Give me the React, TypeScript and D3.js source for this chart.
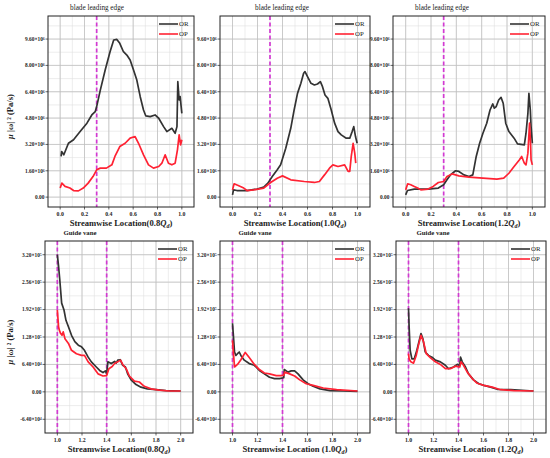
import * as d3 from "d3";
import React from "react";

// streamwise position along the blade (top row) and the guide vane (bottom row)
const blade08OR: [number, number][] = [
  [0.008, 2.47], [0.012, 2.77], [0.03, 2.57], [0.068, 3.27], [0.11, 3.48], [0.164, 3.98],
  [0.22, 4.49], [0.26, 4.99], [0.288, 5.19], [0.3, 5.5], [0.33, 6.5], [0.37, 7.72],
  [0.41, 8.83], [0.44, 9.54], [0.466, 9.58], [0.49, 9.34], [0.52, 8.83], [0.548, 8.63],
  [0.575, 8.33], [0.603, 7.72], [0.63, 7.11], [0.658, 6.1], [0.685, 5.29], [0.704, 4.93],
  [0.74, 4.89], [0.78, 4.99], [0.81, 4.79], [0.85, 4.28], [0.877, 3.98], [0.918, 4.18],
  [0.945, 3.88], [0.96, 4.28], [0.967, 7.01], [0.978, 5.9], [0.986, 6.1], [1.0, 5.09],
];
const blade08OP: [number, number][] = [
  [0.0, 0.55], [0.014, 0.85], [0.04, 0.65], [0.08, 0.55], [0.11, 0.4], [0.15, 0.38],
  [0.19, 0.55], [0.23, 0.85], [0.27, 1.25], [0.3, 1.66], [0.33, 1.76], [0.38, 1.76],
  [0.425, 1.96], [0.45, 2.47], [0.49, 3.07], [0.534, 3.27], [0.575, 3.58], [0.616, 3.68],
  [0.644, 3.27], [0.685, 2.57], [0.726, 1.96], [0.767, 1.76], [0.81, 1.86], [0.836, 2.06],
  [0.863, 2.57], [0.89, 2.06], [0.918, 1.96], [0.945, 2.06], [0.964, 2.87], [0.978, 3.78],
  [0.99, 3.17], [1.0, 3.48],
];
const blade10OR: [number, number][] = [
  [0, 0.14], [0.008, 0.44], [0.035, 0.4], [0.116, 0.4], [0.197, 0.49], [0.25, 0.61],
  [0.283, 0.85], [0.318, 1.25], [0.358, 1.66], [0.385, 1.96], [0.426, 2.97], [0.466, 4.18],
  [0.493, 5.29], [0.52, 6.3], [0.547, 6.91], [0.569, 7.52], [0.58, 7.62], [0.6, 7.32],
  [0.628, 6.91], [0.655, 6.81], [0.68, 6.87], [0.703, 7.01], [0.72, 6.71], [0.74, 6.2],
  [0.763, 6.0], [0.79, 5.29], [0.817, 4.49], [0.844, 3.98], [0.87, 3.78], [0.91, 3.58],
  [0.938, 3.58], [0.957, 3.98], [0.97, 4.28], [0.984, 3.68], [0.997, 3.27],
];
const blade10OP: [number, number][] = [
  [0, 0.44], [0.013, 0.81], [0.05, 0.69], [0.09, 0.55], [0.116, 0.4], [0.17, 0.44],
  [0.25, 0.55], [0.305, 0.89], [0.358, 1.15], [0.4, 1.29], [0.466, 1.05], [0.574, 0.95],
  [0.655, 0.89], [0.695, 0.95], [0.736, 1.35], [0.776, 1.76], [0.803, 1.96], [0.844, 1.86],
  [0.897, 1.96], [0.925, 1.56], [0.938, 1.56], [0.95, 2.47], [0.965, 3.27], [0.978, 2.67],
  [0.986, 2.06],
];
const blade12OR: [number, number][] = [
  [0, 0.14], [0.014, 0.4], [0.068, 0.49], [0.177, 0.49], [0.258, 0.55], [0.3, 0.75],
  [0.326, 1.05], [0.353, 1.35], [0.394, 1.6], [0.42, 1.56], [0.46, 1.35], [0.5, 1.25],
  [0.53, 1.35], [0.557, 2.47], [0.584, 3.27], [0.61, 3.88], [0.64, 4.49], [0.666, 5.29],
  [0.688, 5.66], [0.7, 5.4], [0.715, 5.5], [0.734, 5.9], [0.753, 6.06], [0.77, 5.7],
  [0.79, 4.49], [0.815, 3.98], [0.856, 3.58], [0.883, 3.23], [0.937, 3.17], [0.95, 3.88],
  [0.965, 5.09], [0.973, 6.3], [0.984, 5.29], [0.99, 4.28], [1.0, 3.27],
];
const blade12OP: [number, number][] = [
  [0, 0.44], [0.016, 0.81], [0.04, 0.75], [0.068, 0.65], [0.095, 0.55], [0.12, 0.44],
  [0.177, 0.49], [0.217, 0.65], [0.258, 0.89], [0.3, 0.95], [0.326, 1.25], [0.367, 1.41],
  [0.42, 1.29], [0.5, 1.21], [0.61, 1.15], [0.72, 1.09], [0.774, 1.15], [0.815, 1.45],
  [0.856, 1.86], [0.897, 2.26], [0.916, 2.47], [0.937, 2.06], [0.95, 1.96], [0.965, 2.67],
  [0.978, 4.49], [0.986, 3.27], [0.99, 2.26], [1.0, 1.96],
];
const vane08OR: [number, number][] = [
  [1.0, 3.2], [1.01, 2.93], [1.02, 2.61], [1.035, 2.07], [1.054, 1.91], [1.07, 1.67],
  [1.09, 1.52], [1.115, 1.32], [1.142, 1.17], [1.17, 1.09], [1.196, 1.05], [1.22, 0.97],
  [1.25, 0.81], [1.276, 0.7], [1.316, 0.58], [1.343, 0.5], [1.37, 0.45], [1.39, 0.49],
  [1.4, 0.42], [1.41, 0.7], [1.437, 0.66], [1.464, 0.71], [1.477, 0.67], [1.49, 0.74],
  [1.51, 0.75], [1.53, 0.62], [1.552, 0.58], [1.57, 0.42], [1.598, 0.28], [1.638, 0.17],
  [1.678, 0.11], [1.73, 0.07], [1.8, 0.05], [1.88, 0.03], [2.0, 0.02],
];
const vane08OP: [number, number][] = [
  [1.0, 1.91], [1.01, 1.52], [1.016, 1.44], [1.027, 1.36], [1.038, 1.32], [1.048, 1.4],
  [1.062, 1.24], [1.09, 1.13], [1.115, 0.97], [1.155, 0.89], [1.196, 0.85], [1.22, 0.85],
  [1.25, 0.7], [1.29, 0.58], [1.33, 0.42], [1.37, 0.37], [1.4, 0.38], [1.418, 0.54],
  [1.445, 0.59], [1.464, 0.66], [1.49, 0.7], [1.512, 0.74], [1.53, 0.64], [1.558, 0.54],
  [1.584, 0.37], [1.625, 0.25], [1.665, 0.23], [1.705, 0.13], [1.76, 0.07], [1.826, 0.04],
  [1.906, 0.02], [2.0, 0.02],
];
const vane10OR: [number, number][] = [
  [1.0, 1.6], [1.008, 1.28], [1.016, 0.93], [1.027, 0.85], [1.04, 0.89], [1.054, 0.93],
  [1.067, 0.85], [1.094, 0.74], [1.134, 0.66], [1.175, 0.62], [1.215, 0.5], [1.255, 0.42],
  [1.296, 0.34], [1.336, 0.31], [1.376, 0.31], [1.41, 0.33], [1.414, 0.52], [1.444, 0.46],
  [1.47, 0.49], [1.497, 0.49], [1.524, 0.42], [1.565, 0.28], [1.605, 0.19], [1.645, 0.13],
  [1.7, 0.07], [1.78, 0.03], [1.887, 0.02], [2.0, 0.01],
];
const vane10OP: [number, number][] = [
  [1.0, 1.2], [1.008, 0.89], [1.016, 0.58], [1.04, 0.64], [1.067, 0.75], [1.102, 0.92],
  [1.134, 0.8], [1.175, 0.64], [1.215, 0.52], [1.255, 0.44], [1.296, 0.42], [1.35, 0.38],
  [1.39, 0.38], [1.41, 0.39], [1.417, 0.46], [1.457, 0.42], [1.497, 0.37], [1.538, 0.28],
  [1.59, 0.19], [1.645, 0.15], [1.726, 0.09], [1.833, 0.05], [2.0, 0.02],
];
const vane12OR: [number, number][] = [
  [1.0, 1.95], [1.005, 1.52], [1.013, 0.97], [1.027, 0.77], [1.046, 0.77], [1.067, 0.97],
  [1.086, 1.2], [1.1, 1.36], [1.115, 1.24], [1.134, 0.93], [1.16, 0.85], [1.188, 0.81],
  [1.215, 0.74], [1.255, 0.7], [1.295, 0.62], [1.32, 0.54], [1.36, 0.58], [1.39, 0.64],
  [1.41, 0.62], [1.416, 0.81], [1.43, 0.7], [1.456, 0.58], [1.48, 0.42], [1.52, 0.28],
  [1.563, 0.19], [1.603, 0.15], [1.657, 0.11], [1.71, 0.06], [1.818, 0.05], [2.0, 0.02],
];
const vane12OP: [number, number][] = [
  [1.0, 0.89], [1.005, 0.77], [1.019, 0.7], [1.04, 0.67], [1.062, 0.85], [1.08, 1.09],
  [1.1, 1.32], [1.12, 1.17], [1.142, 0.89], [1.174, 0.8], [1.215, 0.7], [1.255, 0.64],
  [1.295, 0.54], [1.335, 0.54], [1.375, 0.6], [1.41, 0.58], [1.42, 0.7], [1.44, 0.62],
  [1.47, 0.46], [1.51, 0.31], [1.55, 0.2], [1.603, 0.15], [1.67, 0.11], [1.737, 0.05],
  [1.845, 0.03], [2.0, 0.02],
];

const bladeXTicks = [0, 0.2, 0.4, 0.6, 0.8, 1.0];
const bladeYTicks = [0, 1.6, 3.2, 4.8, 6.4, 8.0, 9.6];
const bladeYLabels = ["0.00", "1.60×10⁶", "3.20×10⁶", "4.80×10⁶", "6.40×10⁶", "8.00×10⁶", "9.60×10⁶"];
const vaneXTicks = [1.0, 1.2, 1.4, 1.6, 1.8, 2.0];
const vaneYTicks = [-0.64, 0, 0.64, 1.28, 1.92, 2.56, 3.2];
const vaneYLabels = ["-6.40×10⁴", "0.00", "6.40×10⁴", "1.28×10⁵", "1.92×10⁵", "2.56×10⁵", "3.20×10⁵"];
const bladeMarks = [0.3];
const vaneMarks = [1.0, 1.4];
const flowRates = ["0.8", "1.0", "1.2"];

const FONT = "'Liberation Serif', 'Times New Roman', serif";
const OR_COLOR = "#333333";
const OP_COLOR = "#ff2233";
const MARK_COLOR = "#d23ad2";

type PanelProps = {
  left: number;
  top: number;
  width: number;
  height: number;
  xDomain: [number, number];
  yDomain: [number, number];
  xTicks: number[];
  yTicks: number[];
  yLabels: string[];
  marks: number[];
  or: [number, number][];
  op: [number, number][];
  title: string;
  titleX: number;
  titleBold: boolean;
  xLabel: React.ReactNode;
  showYTitle: boolean;
};

const Panel: React.FC<PanelProps> = ({
  left, top, width, height, xDomain, yDomain, xTicks, yTicks, yLabels, marks,
  or, op, title, titleX, titleBold, xLabel, showYTitle,
}) => {
  const x = d3.scaleLinear().domain(xDomain).range([left, left + width]);
  const y = d3.scaleLinear().domain(yDomain).range([top + height, top]);
  const line = d3.line<[number, number]>().x((d) => x(d[0])).y((d) => y(d[1]));
  const xStep = xTicks[1] - xTicks[0];
  const yStep = yTicks[1] - yTicks[0];
  const xMinor = d3.range(xTicks[0] - xStep / 2, xDomain[1], xStep / 2)
    .filter((v) => v > xDomain[0] && v < xDomain[1]);
  const yMinor = d3.range(yTicks[0] - yStep, yDomain[1], yStep / 2)
    .filter((v) => v > yDomain[0] && v < yDomain[1]);
  const bottom = top + height;
  const clipId = `clip-${left}-${top}`;

  return (
    <g>
      <defs>
        <clipPath id={clipId}>
          <rect x={left} y={top} width={width} height={height} />
        </clipPath>
      </defs>
      <rect x={left} y={top} width={width} height={height} fill="#fff" />
      {xMinor.map((v, i) => (
        <line key={`xm${i}`} x1={x(v)} x2={x(v)} y1={top} y2={bottom} stroke="#e0e0e0" strokeWidth={0.6} />
      ))}
      {yMinor.map((v, i) => (
        <line key={`ym${i}`} x1={left} x2={left + width} y1={y(v)} y2={y(v)} stroke="#e0e0e0" strokeWidth={0.6} />
      ))}
      {xTicks.map((v, i) => (
        <line key={`xg${i}`} x1={x(v)} x2={x(v)} y1={top} y2={bottom} stroke="#bdbdbd" strokeWidth={0.75} />
      ))}
      {yTicks.map((v, i) => (
        <line key={`yg${i}`} x1={left} x2={left + width} y1={y(v)} y2={y(v)} stroke="#bdbdbd" strokeWidth={0.75} />
      ))}
      <g clipPath={`url(#${clipId})`}>
        {marks.map((v, i) => (
          <line key={`mk${i}`} x1={x(v)} x2={x(v)} y1={top} y2={bottom} stroke={MARK_COLOR}
            strokeWidth={1.7} strokeDasharray="4,2.5" />
        ))}
        <path d={line(or) || ""} fill="none" stroke={OR_COLOR} strokeWidth={1.7} strokeLinejoin="round" />
        <path d={line(op) || ""} fill="none" stroke={OP_COLOR} strokeWidth={1.7} strokeLinejoin="round" />
      </g>
      <rect x={left} y={top} width={width} height={height} fill="none" stroke="#222" strokeWidth={1} />
      {xTicks.map((v, i) => (
        <g key={`xt${i}`}>
          <line x1={x(v)} x2={x(v)} y1={bottom} y2={bottom + 2.5} stroke="#222" strokeWidth={0.7} />
          <text x={x(v)} y={bottom + 8.5} textAnchor="middle" fontSize={5.8} fontWeight="bold"
            fontFamily={FONT} fill="#222">
            {v.toFixed(1)}
          </text>
        </g>
      ))}
      {yTicks.map((v, i) => (
        <g key={`yt${i}`}>
          <line x1={left - 2.5} x2={left} y1={y(v)} y2={y(v)} stroke="#222" strokeWidth={0.7} />
          <text x={left - 3.5} y={y(v) + 1.8} textAnchor="end" fontSize={5.4} fontWeight="bold"
            fontFamily={FONT} fill="#222">
            {yLabels[i]}
          </text>
        </g>
      ))}
      <text x={left + titleX} y={top - 6} textAnchor="middle" fontSize={titleBold ? 6.8 : 7.2}
        fontWeight={titleBold ? "bold" : "normal"} fontFamily={FONT} fill="#222">
        {title}
      </text>
      <text x={left + width / 2} y={bottom + 19} textAnchor="middle" fontSize={8.6} fontWeight="bold"
        fontFamily={FONT} fill="#222">
        {xLabel}
      </text>
      {showYTitle && (
        <text transform={`translate(13, ${top + height / 2 + 5}) rotate(-90)`} textAnchor="middle"
          fontSize={8.6} fontWeight="bold" fontFamily={FONT} fill="#222">
          <tspan fontStyle="italic">μ</tspan> |ω| ² (Pa/s)
        </text>
      )}
      <g transform={`translate(${left + width - 35}, ${top + 8})`}>
        <line x1={0} x2={19} y1={0} y2={0} stroke={OR_COLOR} strokeWidth={1.6} />
        <text x={20} y={2.4} fontSize={6.8} fontFamily={FONT} fill="#222">OR</text>
        <line x1={0} x2={19} y1={10} y2={10} stroke={OP_COLOR} strokeWidth={1.6} />
        <text x={20} y={12.4} fontSize={6.8} fontFamily={FONT} fill="#222">OP</text>
      </g>
    </g>
  );
};

const xLabelFor = (q: string, spaced: boolean) => (
  <>
    Streamwise Location{spaced ? " " : ""}({q}
    <tspan fontStyle="italic">Q</tspan>
    <tspan fontSize={6} dy={2} fontStyle="italic">d</tspan>
    <tspan dy={-2}>)</tspan>
  </>
);

const topFrames = [
  { left: 48, width: 146, titleX: 49 },
  { left: 220, width: 150, titleX: 62 },
  { left: 393, width: 152, titleX: 49 },
];
const bottomFrames = [
  { left: 45, width: 148, titleX: 35 },
  { left: 220, width: 150, titleX: 35 },
  { left: 396, width: 150, titleX: 37 },
];
const bladeData = [[blade08OR, blade08OP], [blade10OR, blade10OP], [blade12OR, blade12OP]];
const vaneData = [[vane08OR, vane08OP], [vane10OR, vane10OP], [vane12OR, vane12OP]];

export default function App() {
  return (
    <svg width={550} height={458} style={{ display: "block", position: "absolute", left: 0, top: 0 }}>
      <rect width={550} height={458} fill="#fff" />
      {topFrames.map((f, i) => (
        <Panel key={`t${i}`} left={f.left} top={16} width={f.width} height={191}
          xDomain={[-0.1, 1.1]} yDomain={[-0.6, 11.0]} xTicks={bladeXTicks}
          yTicks={bladeYTicks} yLabels={bladeYLabels} marks={bladeMarks}
          or={bladeData[i][0]} op={bladeData[i][1]} title="blade leading edge"
          titleX={f.titleX} titleBold={false} xLabel={xLabelFor(flowRates[i], false)}
          showYTitle={i === 0} />
      ))}
      {bottomFrames.map((f, i) => (
        <Panel key={`b${i}`} left={f.left} top={241} width={f.width} height={192}
          xDomain={[0.9, 2.1]} yDomain={[-0.96, 3.52]} xTicks={vaneXTicks}
          yTicks={vaneYTicks} yLabels={vaneYLabels} marks={vaneMarks}
          or={vaneData[i][0]} op={vaneData[i][1]} title="Guide vane"
          titleX={f.titleX} titleBold={true} xLabel={xLabelFor(flowRates[i], i > 0)}
          showYTitle={i === 0} />
      ))}
    </svg>
  );
}
